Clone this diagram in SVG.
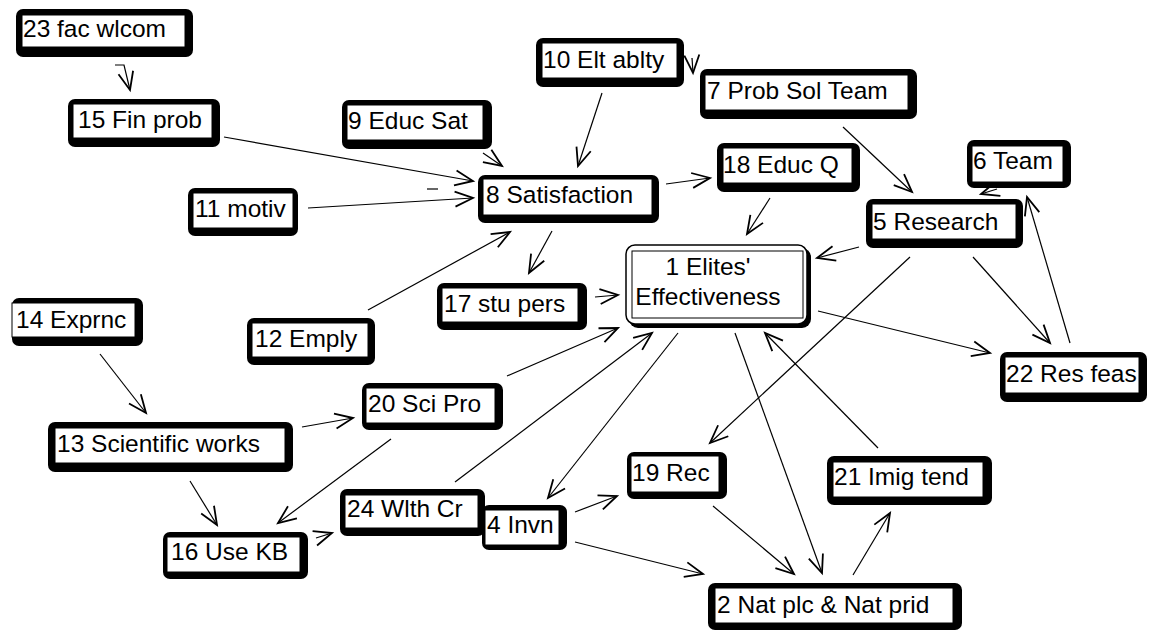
<svg xmlns="http://www.w3.org/2000/svg" width="1152" height="632" viewBox="0 0 1152 632">
<defs>
<marker id="ah" markerUnits="userSpaceOnUse" markerWidth="24" markerHeight="24" viewBox="-14 -8 16 16" refX="0" refY="0" orient="auto" overflow="visible">
<path d="M-12,-5 L0,0 L-12,5" fill="none" stroke="#000" stroke-width="1.2"/>
</marker>
</defs>
<style>
.sh{fill:#000}
.bx{fill:#fff;stroke:#000;stroke-width:1}
.t{font-family:"Liberation Sans",Arial,sans-serif;font-size:24.5px;fill:#000}
.c line,.c path{stroke:#000;stroke-width:1.2;fill:none}
.a{marker-end:url(#ah)}
</style>
<rect width="1152" height="632" fill="#fff"/>
<g class="c" id="connectors">
<path class="a" d="M115,65 L124,65 L130,90"/>
<line class="a" x1="224" y1="137" x2="473" y2="181"/>
<line class="a" x1="308" y1="208" x2="473" y2="198"/>
<line x1="427" y1="189" x2="438" y2="189"/>
<line class="a" x1="483" y1="153" x2="502" y2="166"/>
<line class="a" x1="602" y1="93" x2="578" y2="166"/>
<line class="a" x1="666" y1="184" x2="710" y2="178"/>
<line class="a" x1="692" y1="58" x2="693" y2="73"/>
<line class="a" x1="843" y1="127" x2="912" y2="192"/>
<line class="a" x1="770" y1="198" x2="747" y2="234"/>
<line class="a" x1="859" y1="247" x2="817" y2="258"/>
<line class="a" x1="997" y1="189" x2="981" y2="194"/>
<line class="a" x1="1070" y1="343" x2="1027" y2="197"/>
<line class="a" x1="973" y1="257" x2="1050" y2="343"/>
<line class="a" x1="910" y1="257" x2="710" y2="443"/>
<line class="a" x1="818" y1="311" x2="990" y2="353"/>
<line class="a" x1="595" y1="297" x2="618" y2="295"/>
<line class="a" x1="552" y1="231" x2="529" y2="273"/>
<line class="a" x1="368" y1="310" x2="510" y2="232"/>
<line class="a" x1="507" y1="376" x2="618" y2="328"/>
<line class="a" x1="455" y1="482" x2="652" y2="333"/>
<line class="a" x1="678" y1="333" x2="548" y2="498"/>
<line class="a" x1="735" y1="333" x2="822" y2="573"/>
<line class="a" x1="878" y1="448" x2="765" y2="333"/>
<line class="a" x1="853" y1="575" x2="890" y2="513"/>
<line class="a" x1="713" y1="506" x2="794" y2="574"/>
<line class="a" x1="575" y1="512" x2="617" y2="496"/>
<line class="a" x1="575" y1="542" x2="703" y2="574"/>
<line class="a" x1="100" y1="354" x2="146" y2="413"/>
<line class="a" x1="302" y1="427" x2="353" y2="418"/>
<line class="a" x1="391" y1="439" x2="278" y2="523"/>
<line class="a" x1="190" y1="481" x2="217" y2="525"/>
<line class="a" x1="316" y1="538" x2="332" y2="533"/>
</g>
<g id="n23"><rect class="sh" x="16" y="9" width="177" height="48" rx="7"/><rect class="bx" x="22" y="15" width="163" height="32"/><text class="t" x="23" y="37">23 fac wlcom</text></g>
<g id="n15"><rect class="sh" x="68" y="99" width="152" height="48" rx="7"/><rect class="bx" x="73" y="104" width="139" height="34"/><text class="t" x="78" y="128">15 Fin prob</text></g>
<g id="n10"><rect class="sh" x="536" y="38" width="148" height="49" rx="7"/><rect class="bx" x="542" y="43" width="135" height="35"/><text class="t" x="543" y="68">10 Elt ablty</text></g>
<g id="n7"><rect class="sh" x="700" y="69" width="217" height="50" rx="7"/><rect class="bx" x="705" y="75" width="203" height="35"/><text class="t" x="707" y="99">7 Prob Sol Team</text></g>
<g id="n9"><rect class="sh" x="342" y="100" width="150" height="49" rx="7"/><rect class="bx" x="347" y="105" width="136" height="35"/><text class="t" x="348" y="129">9 Educ Sat</text></g>
<g id="n8"><rect class="sh" x="478" y="175" width="181" height="48" rx="7"/><rect class="bx" x="483" y="179" width="169" height="36"/><text class="t" x="486" y="203">8 Satisfaction</text></g>
<g id="n18"><rect class="sh" x="717" y="143" width="143" height="49" rx="7"/><rect class="bx" x="723" y="148" width="129" height="35"/><text class="t" x="723" y="173">18 Educ Q</text></g>
<g id="n11"><rect class="sh" x="188" y="188" width="110" height="48" rx="7"/><rect class="bx" x="193" y="193" width="100" height="35"/><text class="t" x="195" y="217">11 motiv</text></g>
<g id="n6"><rect class="sh" x="967" y="140" width="104" height="48" rx="7"/><rect class="bx" x="972" y="146" width="91" height="36"/><text class="t" x="973" y="169">6 Team</text></g>
<g id="n5"><rect class="sh" x="866" y="199" width="157" height="49" rx="7"/><rect class="bx" x="872" y="204" width="144" height="35"/><text class="t" x="873" y="230">5 Research</text></g>
<g id="n17"><rect class="sh" x="437" y="283" width="150" height="47" rx="7"/><rect class="bx" x="442" y="288" width="136" height="34"/><text class="t" x="444" y="312">17 stu pers</text></g>
<g id="n1"><rect class="sh" x="629" y="248" width="182" height="80" rx="9"/><rect x="626" y="245" width="181" height="79" rx="9" fill="#fff" stroke="#000" stroke-width="1.5"/><rect x="632" y="251" width="171" height="67" fill="none" stroke="#000" stroke-width="1"/><text class="t" x="708" y="275" text-anchor="middle">1 Elites'</text><text class="t" x="708" y="305" text-anchor="middle">Effectiveness</text></g>
<g id="n14"><rect class="sh" x="12" y="298" width="131" height="48" rx="7"/><rect class="bx" x="12" y="303" width="123" height="34"/><text class="t" x="16" y="328">14 Exprnc</text></g>
<g id="n12"><rect class="sh" x="247" y="318" width="128" height="47" rx="7"/><rect class="bx" x="252" y="323" width="116" height="34"/><text class="t" x="255" y="347">12 Emply</text></g>
<g id="n22"><rect class="sh" x="1000" y="352" width="147" height="50" rx="7"/><rect class="bx" x="1005" y="357" width="134" height="36"/><text class="t" x="1006" y="382">22 Res feas</text></g>
<g id="n20"><rect class="sh" x="362" y="383" width="141" height="47" rx="7"/><rect class="bx" x="366" y="388" width="129" height="35"/><text class="t" x="368" y="412">20 Sci Pro</text></g>
<g id="n13"><rect class="sh" x="48" y="422" width="245" height="50" rx="7"/><rect class="bx" x="55" y="428" width="230" height="35"/><text class="t" x="57" y="452">13 Scientific works</text></g>
<g id="n24"><rect class="sh" x="340" y="489" width="145" height="47" rx="7"/><rect class="bx" x="345" y="495" width="133" height="33"/><text class="t" x="347" y="517">24 Wlth Cr</text></g>
<g id="n4"><rect class="sh" x="482" y="505" width="85" height="45" rx="7"/><rect class="bx" x="485" y="510" width="74" height="35"/><text class="t" x="487" y="533">4 Invn</text></g>
<g id="n19"><rect class="sh" x="627" y="452" width="100" height="47" rx="7"/><rect class="bx" x="631" y="456" width="88" height="36"/><text class="t" x="632" y="481">19 Rec</text></g>
<g id="n21"><rect class="sh" x="827" y="456" width="165" height="49" rx="7"/><rect class="bx" x="833" y="462" width="150" height="35"/><text class="t" x="834" y="485">21 Imig tend</text></g>
<g id="n16"><rect class="sh" x="163" y="532" width="145" height="47" rx="7"/><rect class="bx" x="167" y="537" width="133" height="35"/><text class="t" x="171" y="560">16 Use KB</text></g>
<g id="n2"><rect class="sh" x="708" y="583" width="254" height="47" rx="7"/><rect class="bx" x="715" y="588" width="238" height="35"/><text class="t" x="717" y="613">2 Nat plc &amp; Nat prid</text></g>
</svg>
